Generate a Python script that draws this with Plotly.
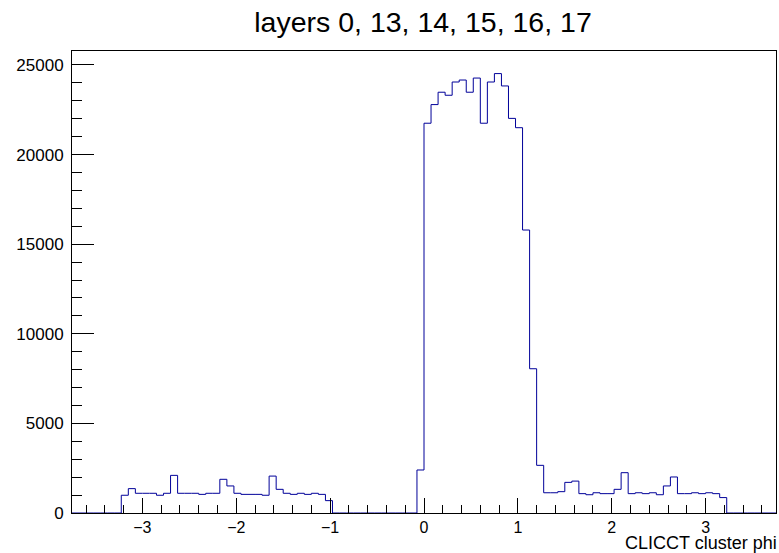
import numpy as np
import plotly.graph_objects as go

# Histogram binning: 100 bins over [-3.75, 3.75]
x_low, x_high, n_bins = -3.75, 3.75, 100

# Bin contents, grouped by region of phi
lead_zeros = [0] * 7                      # [-3.75, -3.225)
left_band = [990, 1360, 1100, 1100, 1100, 990, 1100, 2100, 1100, 1100,
             1100, 1040, 1100, 1100, 1880, 1510, 1100, 1040, 1040, 1040,
             990, 2060, 1320, 1100, 1040, 1100, 1040, 1100, 1040, 690]
gap_zeros = [0] * 12                      # [-0.975, -0.075)
edge_bin = [2400]                         # [-0.075, 0)
main_band = [21750, 22790, 23480, 23310, 24050, 24160, 23480, 24270, 21750, 24050,
             24520, 23830, 22020, 21500, 15790, 8050, 2660, 1130, 1130, 1190,
             1710, 1780, 1080, 1020, 1130, 1080, 1080, 1320, 2250, 1080,
             1130, 1080, 1130, 1020, 1510, 2010, 1080, 1080, 1130, 1080,
             1130, 1080, 860]
tail_zeros = [0] * 7                      # [3.225, 3.75]

counts = lead_zeros + left_band + gap_zeros + edge_bin + main_band + tail_zeros
edges = np.linspace(x_low, x_high, n_bins + 1)

# Axis tick labels
x_tickvals = [-3, -2, -1, 0, 1, 2, 3]
x_ticktext = ["\u22123", "\u22122", "\u22121", "0", "1", "2", "3"]
y_tickvals = [0, 5000, 10000, 15000, 20000, 25000]
y_ticktext = ["0", "5000", "10000", "15000", "20000", "25000"]

# Step outline: each bin drawn as a horizontal segment, joined vertically
step_x = list(edges)
step_y = counts + [counts[-1]]

font_family = "Liberation Sans, Arial, Helvetica, sans-serif"

fig = go.Figure()
fig.add_trace(go.Scatter(
    x=step_x, y=step_y, mode="lines",
    line=dict(color="#000099", width=1, shape="hv"),
    showlegend=False, hoverinfo="skip",
))

fig.update_layout(
    width=779, height=553,
    margin=dict(l=72, r=3, t=51, b=40),
    paper_bgcolor="white", plot_bgcolor="white",
    font=dict(family=font_family, color="black", size=17),
    title=dict(text="layers 0, 13, 14, 15, 16, 17", x=0.543, xanchor="center",
               y=1 - 22 / 553, yanchor="middle", font=dict(size=28.5, family=font_family)),
    showlegend=False,
)

fig.update_xaxes(
    range=[x_low, x_high], showgrid=False, zeroline=False,
    showline=True, linecolor="black", linewidth=1, mirror=True,
    tickmode="array", tickvals=x_tickvals, ticktext=x_ticktext,
    ticks="inside", ticklen=15, tickcolor="black", tickwidth=1,
    minor=dict(ticks="inside", ticklen=8, dtick=0.2, tick0=0,
               tickcolor="black", tickwidth=1, showgrid=False),
    tickfont=dict(size=16), ticklabelstandoff=0,
)

fig.update_yaxes(
    range=[0, 25780], showgrid=False, zeroline=False,
    showline=True, linecolor="black", linewidth=1, mirror=True,
    tickmode="array", tickvals=y_tickvals, ticktext=y_ticktext,
    ticks="inside", ticklen=22, tickcolor="black", tickwidth=1,
    minor=dict(ticks="inside", ticklen=10, dtick=1000, tick0=0,
               tickcolor="black", tickwidth=1, showgrid=False),
    tickfont=dict(size=17), ticklabelstandoff=4,
)

fig.add_annotation(
    text="CLICCT cluster phi", xref="paper", yref="paper",
    x=1.0, y=-30 / 462, xanchor="right", yanchor="middle", xshift=2,
    borderpad=0, showarrow=False, font=dict(size=18, family=font_family),
)

fig.write_html("out.html")
